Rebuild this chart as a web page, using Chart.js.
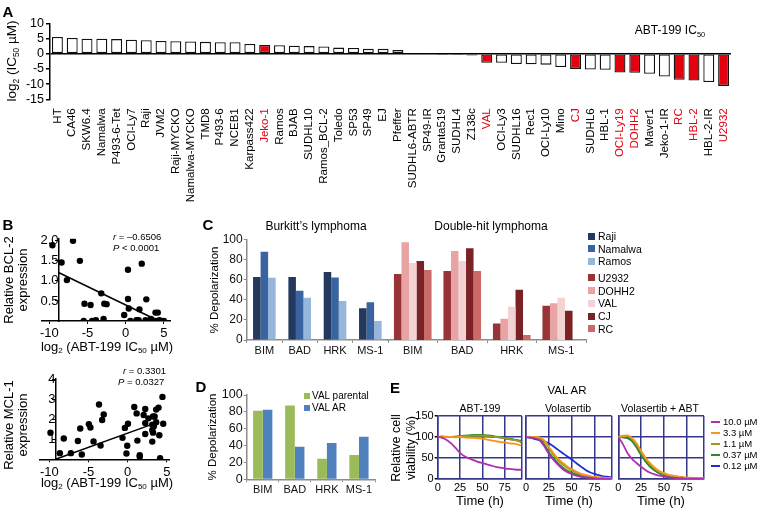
<!DOCTYPE html>
<html>
<head>
<meta charset="utf-8">
<script src="https://cdn.jsdelivr.net/npm/chart.js@4.4.0/dist/chart.umd.min.js"></script>
<style>
body{margin:0;width:764px;height:515px;position:relative;background:#fff;overflow:hidden;
  font-family:"Liberation Sans",Arial,sans-serif;color:#000}
canvas{position:absolute}
.t{position:absolute;white-space:nowrap;line-height:1.15}
.t sub{font-size:0.62em;vertical-align:-0.35em;line-height:0}
.sq{position:absolute}
</style>
</head>
<body>
<script>
// ---- panel A: ABT-199 IC50 per cell line
var cellLines = ['HT','CA46','SKW6.4','Namalwa','P493-6-Tet','OCI-Ly7','Raji','JVM2','Raji-MYCKO','Namalwa-MYCKO',
  'TMD8','P493-6','NCEB1','Karpass422','Jeko-1','Ramos','BJAB','SUDHL10','Ramos_BCL-2','Toledo','SP53','SP49','EJ',
  'Pfeffer','SUDHL6-ABTR','SP49-IR','Granta519','SUDHL4','Z138c','VAL','OCI-Ly3','SUDHL16','Rec1','OCI-Ly10','Mino',
  'CJ','SUDHL6','HBL-1','OCI-Ly19','DOHH2','Maver1','Jeko-1-IR','RC','HBL-2','HBL-2-IR','U2932']
var log2Ic50 = [5.5,5.2,4.9,4.9,4.8,4.6,4.4,4.2,4.1,4.0,3.9,3.8,3.8,3.2,2.9,2.8,2.6,2.5,2.4,2.0,1.9,1.6,1.6,
  1.2,0.2,0.1,-0.1,-0.1,-0.6,-3.0,-3.0,-3.4,-3.5,-3.6,-4.4,-5.0,-5.2,-5.3,-6.2,-6.3,-6.6,-7.5,-8.6,-8.8,-9.3,-10.6]
var redLines = ['Jeko-1','VAL','CJ','OCI-Ly19','DOHH2','RC','HBL-2','U2932']
var ic50Ticks = [-15,-10,-5,0,5,10]

// ---- panel B: expression vs log2 IC50
var bcl2X = [-9.6,-6.9,-8.4,-6.0,-7.7,-3.2,-5.4,-4.6,-2.8,-2.5,0.3,2.1,0.3,2.7,0.4,1.8,-0.2,3.9,4.2,
  -5.5,-4.4,-3.9,-2.9,0.6,1.4,1.7,2.6,3.3,3.6,3.9,4.4,4.7,5.0]
var bcl2Y = [1.89,2.0,1.46,1.5,1.02,0.69,0.43,0.40,0.43,0.42,1.28,1.43,0.55,0.54,0.31,0.29,0.15,0.21,0.21,
  0.0,0.0,0.02,0.05,0.0,0.02,0.02,0.02,0.05,0.01,0.0,0.02,0.0,0.0]
var bcl2FitX = [-8.8,4.0]
var bcl2FitY = [1.21,0.03]
var bcl2TicksY = [0.5,1.0,1.5,2.0]
var mcl1X = [-9.85,-8.15,-8.65,-7.25,-6.35,-6.05,-5.85,-4.35,-3.65,-4.95,-4.75,-3.05,-3.25,-3.45,-0.65,-0.35,0.05,
  -0.05,-0.15,0.85,1.15,1.25,1.55,1.55,2.25,2.05,2.65,2.25,2.25,3.25,3.45,3.65,3.95,3.15,3.35,3.15,3.25,3.65,4.05,
  4.45,4.55,4.15,3.15]
var mcl1Y = [1.34,1.05,0.31,0.31,0.92,1.55,0.24,0.9,2.76,1.77,1.6,2.26,1.98,0.69,1.08,1.58,1.79,0.68,0.29,2.63,2.31,
  0.94,0.21,0.13,2.53,2.23,2.06,1.82,1.27,2.15,2.15,2.5,2.6,1.74,1.66,1.47,1.34,1.87,1.21,3.14,1.79,0.05,0.89]
var mcl1FitX = [-9.2,3.9]
var mcl1FitY = [0.0,1.87]
var mcl1TicksY = [1,2,3,4]
var log2TicksX = [-10,-5,0,5]

// ---- panels C and D: % depolarization per BH3 peptide
var bh3Peptides = ['BIM','BAD','HRK','MS-1']
var burkittLines = ['Raji','Namalwa','Ramos']
var burkittColors = ['#23395d','#3a64a0','#97b6dc']
var rajiDepol = [62.6,62.6,67.5,31.5]
var namalwaDepol = [87.7,49,62,37.4]
var ramosDepol = [61.9,42,38.7,18.9]
var doubleHitLines = ['U2932','DOHH2','VAL','CJ','RC']
var doubleHitColors = ['#983438','#e8a4a4','#f2d2d2','#7b2227','#cc6a6a']
var u2932Depol = [65.5,68.5,16.5,34]
var dohh2Depol = [97,88.5,21,36.5]
var valDepol = [76.5,78.5,33,42]
var cjDepol = [78.5,91,50,29]
var rcDepol = [69.5,68.5,5,null]
var depolTicks = [0,20,40,60,80,100]
var valParentalDepol = [81.4,87.4,24.5,28.9]
var valArDepol = [82.6,38.7,43,50.6]

// ---- panel E: VAL AR viability over time
var timeH = [0,5,10,15,20,25,30,35,40,45,50,55,60,65,70,75,80,85,90,94]
var doseLabels = ['10.0 µM','3.3 µM','1.1 µM','0.37 µM','0.12 µM']
var doseColors = ['#b02fb0','#f7961e','#9c9a1c','#2a8c2a','#1c2fd6']
var abtV10  = [100,98,93,85,74,62,54,49,45,41,38,35,32,29,27,25,24,23,22,22]
var abtV33  = [100,101,100,100,99,100,99,98,98,97,96,94,92,90,88,87,85,84,82,80]
var abtV11  = [100,101,101,100,101,101,102,102,103,103,103,102,101,100,99,97,95,93,91,89]
var abtV037 = [100,101,100,100,101,102,103,104,105,105,105,104,103,101,100,98,96,94,91,87]
var abtV012 = [100,101,100,100,100,101,101,101,102,102,102,102,101,100,99,97,95,94,92,91]
var volV10  = [100,99,97,92,78,60,46,34,24,17,12,8,5,4,3,2,1,1,0,0]
var volV33  = [100,100,100,99,92,77,62,49,39,30,24,18,13,10,7,5,4,3,2,2]
var volV11  = [100,100,100,98,90,74,58,45,35,27,21,15,11,8,6,4,3,2,2,1]
var volV037 = [100,99,98,94,82,64,50,38,28,20,15,11,8,5,4,3,2,1,1,1]
var volV012 = [100,98,95,92,89,85,78,70,62,54,47,38,30,22,16,12,9,6,5,4]
var comboV10  = [100,83,62,48,38,29,21,15,11,8,6,4,3,2,2,1,1,1,1,1]
var comboV33  = [100,103,104,98,85,67,50,37,27,19,14,10,8,6,4,3,3,2,2,2]
var comboV11  = [100,101,102,95,82,64,47,34,24,17,12,9,7,5,4,3,2,2,1,1]
var comboV037 = [100,99,97,90,75,57,41,29,20,14,10,7,5,4,3,2,2,1,1,1]
var comboV012 = [100,100,98,92,78,60,43,30,21,14,10,7,5,4,3,2,2,1,1,1]
var timeTicks = [0,25,50,75,94]
var viabTicks = [0,50,100,150]

Chart.defaults.font.family = '"Liberation Sans", Arial, sans-serif'
Chart.defaults.color = '#000'
Chart.defaults.animation = false
Chart.defaults.responsive = false
Chart.defaults.plugins.legend.display = false
Chart.defaults.plugins.tooltip.enabled = false

var place = function(left,top,w,h){
  var c = document.createElement('canvas')
  c.width = w
  c.height = h
  c.style.left = left + 'px'
  c.style.top = top + 'px'
  c.style.width = w + 'px'
  c.style.height = h + 'px'
  document.body.appendChild(c)
  return c
}
var addText = function(html,x,y,size,opts){
  opts = opts || {}
  var d = document.createElement('div')
  d.className = 't'
  d.innerHTML = html
  d.style.left = x + 'px'
  d.style.top = y + 'px'
  d.style.fontSize = size + 'px'
  var tr = opts.left ? 'translate(0,-50%)' : 'translate(-50%,-50%)'
  if(opts.rotate) tr += ' rotate(-90deg)'
  d.style.transform = tr
  if(opts.bold) d.style.fontWeight = 'bold'
  if(opts.lh) d.style.lineHeight = opts.lh + 'px'
  if(opts.rotate) d.style.textAlign = 'center'
  document.body.appendChild(d)
}
var addSwatch = function(color,x,y,w,h){
  var s = document.createElement('div')
  s.className = 'sq'
  s.style.left = x + 'px'
  s.style.top = y + 'px'
  s.style.width = w + 'px'
  s.style.height = h + 'px'
  s.style.background = color
  document.body.appendChild(s)
}
var fixWidth = function(w){ return function(scale){ scale.width = w } }
var fixHeight = function(h){ return function(scale){ scale.height = h } }
var setTicks = function(values){
  return function(scale){ scale.ticks = values.map(function(v){ return {value: v} }) }
}
var toPoints = function(xs,ys){
  return xs.map(function(x,i){ return {x: x, y: ys[i]} })
}

// ---------------- A
new Chart(place(0,0,764,232),{
  type: 'bar',
  data: {
    labels: cellLines,
    datasets: [{
      data: log2Ic50,
      backgroundColor: cellLines.map(function(n){ return redLines.indexOf(n) >= 0 ? '#e3000f' : '#fff' }),
      borderColor: '#111',
      borderWidth: 1.3,
      borderSkipped: false,
      barPercentage: 0.74,
      categoryPercentage: 1
    }]
  },
  options: {
    layout: {padding: {top: 23.3, right: 33}},
    scales: {
      x: {
        border: {display: false},
        grid: {display: false},
        ticks: {
          autoSkip: false, minRotation: 90, maxRotation: 90, padding: 1,
          font: {size: 11.5},
          color: function(ctx){ return redLines.indexOf(cellLines[ctx.index]) >= 0 ? '#e3000f' : '#000' }
        },
        afterFit: fixHeight(232 - 99.3)
      },
      y: {
        min: -15, max: 10,
        afterBuildTicks: setTicks(ic50Ticks),
        ticks: {autoSkip: false, font: {size: 12.5}, padding: 2},
        border: {color: '#000', width: 1.5},
        grid: {
          color: function(ctx){ return ctx.tick && ctx.tick.value === 0 ? '#000' : 'rgba(0,0,0,0)' },
          lineWidth: 1.5, tickColor: '#000', tickLength: 4
        },
        afterFit: fixWidth(50)
      }
    }
  }
})

// ---------------- B
var scatterChart = function(canvas,xs,ys,fitX,fitY,xMin,xMax,yMax,yTicks,axisAt,pad,xH,fmt){
  return new Chart(canvas,{
    type: 'scatter',
    data: {datasets: [
      {type: 'line', data: toPoints(fitX,fitY), borderColor: '#000', borderWidth: 1.5, pointRadius: 0},
      {data: toPoints(xs,ys), backgroundColor: '#000', borderWidth: 0, pointRadius: 3.2}
    ]},
    options: {
      layout: {padding: pad},
      scales: {
        x: {
          type: 'linear', min: xMin, max: xMax,
          afterBuildTicks: setTicks(log2TicksX),
          ticks: {autoSkip: false, maxRotation: 0, font: {size: 13}, padding: 2},
          border: {color: '#000', width: 1.5},
          grid: {drawOnChartArea: false, color: '#000', tickLength: 3},
          afterFit: fixHeight(xH)
        },
        y: {
          type: 'linear', min: 0, max: yMax,
          position: {x: axisAt},
          afterBuildTicks: setTicks(yTicks),
          ticks: {autoSkip: false, font: {size: 13}, padding: 3, callback: fmt},
          border: {color: '#000', width: 1.5},
          grid: {drawOnChartArea: false, color: '#000', tickLength: 3}
        }
      }
    }
  })
}
scatterChart(place(0,228,182,114),bcl2X,bcl2Y,bcl2FitX,bcl2FitY,-11,5.8,2.05,bcl2TicksY,-8.8,
  {left: 41.7, top: 9, right: 12},342 - 321,function(v){ return v.toFixed(1) })
scatterChart(place(0,368,182,114),mcl1X,mcl1Y,mcl1FitX,mcl1FitY,-11.2,5.4,4.05,mcl1TicksY,-9.2,
  {left: 39.9, top: 8.3, right: 12.1},482 - 459.3,function(v){ return v })

// ---------------- C (two charts sharing one baseline)
var greyAxis = function(o){
  o.border = {color: '#8c8c8c', width: 1.5}
  o.grid = {drawOnChartArea: false, color: '#8c8c8c', tickLength: 3}
  return o
}
var depolBars = function(canvas,names,colors,series,catPct,pad,showY,yW,xH,tickSize){
  return new Chart(canvas,{
    type: 'bar',
    data: {
      labels: bh3Peptides,
      datasets: series.map(function(vals,i){
        return {label: names[i], data: vals, backgroundColor: colors[i], barPercentage: 1, categoryPercentage: catPct}
      })
    },
    options: {
      layout: {padding: pad},
      scales: {
        x: greyAxis({
          ticks: {autoSkip: false, minRotation: 0, maxRotation: 0, font: {size: 11}, padding: 1, color: '#111'},
          afterFit: fixHeight(xH)
        }),
        y: greyAxis({
          min: 0, max: 100, display: showY,
          afterBuildTicks: setTicks(depolTicks),
          ticks: {autoSkip: false, font: {size: tickSize}, padding: 1, color: '#111'},
          afterFit: fixWidth(yW)
        })
      }
    }
  })
}
depolBars(place(195,225,200,137),burkittLines,burkittColors,[rajiDepol,namalwaDepol,ramosDepol],0.64,
  {top: 14.3, right: 7},true,51.7,137 - 115,12)
depolBars(place(380,225,215,137),doubleHitLines,doubleHitColors,[u2932Depol,dohh2Depol,valDepol,cjDepol,rcDepol],0.76,
  {top: 14.3, left: 8, right: 9},false,0,137 - 115,12)

// ---------------- D
depolBars(place(195,382,185,115),['VAL parental','VAL AR'],['#9bbb59','#4f81bd'],[valParentalDepol,valArDepol],0.6,
  {top: 13, right: 5},true,51.7,497 - 479.3,12.5)

// ---------------- E
var navy = '#35388a'
var viabChart = function(canvas,series,pad,showY){
  return new Chart(canvas,{
    type: 'line',
    data: {datasets: series.map(function(vals,i){
      return {data: toPoints(timeH,vals), borderColor: doseColors[i], borderWidth: 1.8, pointRadius: 0,
        cubicInterpolationMode: 'monotone'}
    })},
    options: {
      layout: {padding: pad},
      scales: {
        x: {
          type: 'linear', min: 0, max: 94,
          afterBuildTicks: setTicks(timeTicks),
          ticks: {autoSkip: false, maxRotation: 0, font: {size: 11}, padding: 2,
            callback: function(v){ return v % 25 === 0 ? v : '' }},
          border: {color: navy, width: 1.5},
          grid: {color: navy, lineWidth: 1.5, drawTicks: false},
          afterFit: fixHeight(16)
        },
        y: {
          type: 'linear', min: 0, max: 150,
          afterBuildTicks: setTicks(viabTicks),
          ticks: {autoSkip: false, display: showY, font: {size: 11}, padding: 1},
          border: {color: navy, width: 1.5},
          grid: {color: navy, lineWidth: 1.5, tickColor: '#000', tickLength: showY ? 3 : 0},
          afterFit: fixWidth(showY ? 32.7 : 0)
        }
      }
    }
  })
}
viabChart(place(405,408,120,87),[abtV10,abtV33,abtV11,abtV037,abtV012],{top: 8, right: 3.3},true)
viabChart(place(520,408,96,87),[volV10,volV33,volV11,volV037,volV012],{top: 8, left: 6, right: 4.3},false)
viabChart(place(612,408,96,87),[comboV10,comboV33,comboV11,comboV037,comboV012],{top: 8, left: 6.3, right: 4},false)

// ---------------- text
addText('A',8,12,15,{bold: true})
addText('log<sub>2</sub> (IC<sub>50</sub> µM)',12,61,13.5,{rotate: true})
addText('ABT-199 IC<sub>50</sub>',670,31,12)

addText('B',8,225,15,{bold: true})
addText('Relative BCL-2<br>expression',16,280,13,{rotate: true,lh: 14})
addText('log<sub>2</sub> (ABT-199 IC<sub>50</sub> µM)',107,347,13)
addText('<i>r</i> = –0.6506',113,237,9.5,{left: true})
addText('<i>P</i> &lt; 0.0001',113,248,9.5,{left: true})
addText('Relative MCL-1<br>expression',16,425,13,{rotate: true,lh: 14})
addText('log<sub>2</sub> (ABT-199 IC<sub>50</sub> µM)',107,483,13)
addText('<i>r</i> = 0.3301',123,371,9.5,{left: true})
addText('<i>P</i> = 0.0327',118,382,9.5,{left: true})

addText('C',208,225,15,{bold: true})
addText('% Depolarization',215,290,11.5,{rotate: true})
addText('Burkitt’s lymphoma',316,227,12)
addText('Double-hit lymphoma',491,227,12)
var legendRowsC = [236,248.7,261.3,277.7,290.7,303.3,316,328.7]
burkittLines.concat(doubleHitLines).forEach(function(name,i){
  var color = i < 3 ? burkittColors[i] : doubleHitColors[i - 3]
  addSwatch(color,588,legendRowsC[i] - 3.5,7,7)
  addText(name,598,legendRowsC[i],10.5,{left: true})
})

addText('D',201,387,15,{bold: true})
addText('% Depolarization',213,437,11.5,{rotate: true})
addSwatch('#9bbb59',304,393,6,6)
addText('VAL parental',312,396,10,{left: true})
addSwatch('#4f81bd',304,405,6,6)
addText('VAL AR',312,408,10,{left: true})

addText('E',395,388,15,{bold: true})
addText('VAL AR',567,391,11.5)
addText('ABT-199',480,408,10.5)
addText('Volasertib',568,408,10.5)
addText('Volasertib + ABT',660,408,10.5)
addText('Relative cell<br>viability (%)',404,448,12.5,{rotate: true,lh: 15})
addText('Time (h)',480,501,13)
addText('Time (h)',569,501,13)
addText('Time (h)',661,501,13)
var legendRowsE = [421.5,432.5,443.5,454.5,465.5]
doseLabels.forEach(function(lab,i){
  addSwatch(doseColors[i],711,legendRowsE[i] - 1,9,2)
  addText(lab,723,legendRowsE[i],9.5,{left: true})
})
</script>
</body>
</html>
